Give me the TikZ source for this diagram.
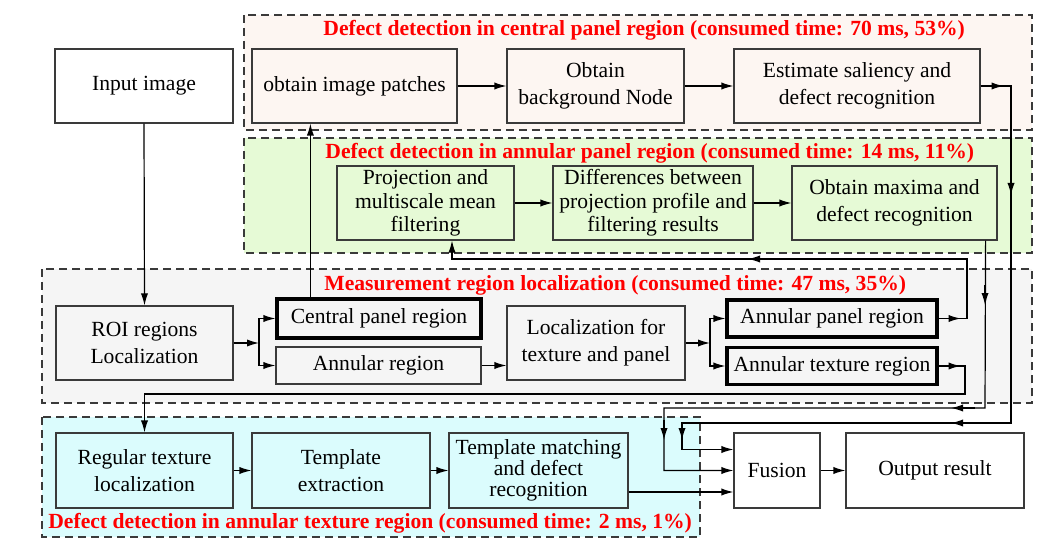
\documentclass[tikz,border=0pt]{standalone}
\usepackage{fontspec}
\setmainfont{Liberation Serif}
\usetikzlibrary{arrows.meta,calc}
\definecolor{linec}{HTML}{3A3A3A}
\definecolor{peach}{HTML}{FDF6F2}
\definecolor{lgreen}{HTML}{E6FAD6}
\definecolor{lgray}{HTML}{F5F5F5}
\definecolor{lcyan}{HTML}{DBFCFD}
\begin{document}
\begin{tikzpicture}[x=0.5pt,y=-0.5pt,
  every node/.style={font=\fontsize{10.8pt}{13.5pt}\selectfont},
  box/.style={draw=linec, line width=0.6pt, align=center, inner sep=0pt, minimum height=37pt},
  thickbox/.style={box, draw=black, line width=1.6pt},
  grp/.style={draw=linec, line width=0.6pt, dash pattern=on 4pt off 2.5pt},
  ttl/.style={font=\fontsize{10.8pt}{13pt}\selectfont\bfseries, text=red, anchor=west, inner sep=0pt},
  ln/.style={draw=black, line width=0.6pt},
  arr/.style={ln, -{Latex[length=6pt,width=3.6pt]}},
  threeA/.style={font=\fontsize{10.8pt}{11.75pt}\selectfont},
  threeB/.style={font=\fontsize{10.8pt}{10.6pt}\selectfont}
]
\useasboundingbox (0,0) rectangle (1048,545);
% groups
\draw[grp, fill=peach] (244,15) rectangle (1032,130);
\draw[grp, fill=lgreen] (244,138) rectangle (1032,253);
\draw[grp, fill=lgray] (42,269) rectangle (1032,403);
\draw[grp, fill=lcyan] (42,417) rectangle (700,537);
% titles
\node[ttl] (t1) at (323,30) {Defect detection in central panel region (consumed time: 70 ms, 53\%)};
\node[ttl] (t2) at (325,153) {Defect detection in annular panel region (consumed time: 14 ms, 11\%)};
\node[ttl] (t3) at (324,285) {Measurement region localization (consumed time: 47 ms, 35\%)};
\node[ttl] (t4) at (48,523) {Defect detection in annular texture region (consumed time: 2 ms, 1\%)};
% nodes
\node[box, fill=white, minimum width=89pt] (inp) at (144,86) {Input image};
\node[box, fill=peach, minimum width=102.5pt] (patches) at (354.5,86) {obtain image patches};
\node[box, fill=peach, minimum width=88.5pt] (bgnode) at (595.5,86) {Obtain\\background Node};
\node[box, fill=peach, minimum width=123pt] (est) at (857,86) {Estimate saliency and\\defect recognition};
\node[box, fill=lgreen, minimum width=88.5pt, threeA] (proj) at (425.5,203) {Projection and\\multiscale mean\\filtering};
\node[box, fill=lgreen, minimum width=100pt, threeA] (diff) at (653,203) {Differences between\\projection profile and\\filtering results};
\node[box, fill=lgreen, minimum width=102.5pt] (maxima) at (894.5,203) {Obtain maxima and\\defect recognition};
\node[box, fill=lgray, minimum width=88.5pt] (roi) at (144.5,343) {ROI regions\\Localization};
\node[thickbox, fill=lgray, minimum width=102pt, minimum height=19.5pt] (cpr) at (379,318.5) {Central panel region};
\node[box, fill=lgray, minimum width=102.5pt, minimum height=18.5pt] (ar) at (378.5,365.5) {Annular region};
\node[box, fill=lgray, minimum width=89pt] (loc) at (596,343) {Localization for\\texture and panel};
\node[thickbox, fill=lgray, minimum width=105pt, minimum height=18.5pt] (apr) at (832,318.5) {Annular panel region};
\node[thickbox, fill=lgray, minimum width=105pt, minimum height=18.5pt] (atr) at (832,366) {Annular texture region};
\node[box, fill=lcyan, minimum width=88.5pt, minimum height=37.5pt] (rtl) at (144.5,470.5) {Regular texture\\localization};
\node[box, fill=lcyan, minimum width=89pt, minimum height=37.5pt] (tex) at (341,470.5) {Template\\extraction};
\node[box, fill=lcyan, minimum width=89.5pt, minimum height=37.5pt, threeB] (tm) at (538.5,470.5) {Template matching\\and defect\\recognition};
\node[box, fill=white, minimum width=43pt, minimum height=37.5pt] (fus) at (777,470.5) {Fusion};
\node[box, fill=white, minimum width=89pt, minimum height=37.5pt] (out) at (935,470.5) {Output result};
% bend coordinates
\coordinate (c1) at ([xshift=17.5pt]cpr.north west);
\coordinate (m0) at ([xshift=-6pt]maxima.south east);
\coordinate (t0) at ([yshift=-10.75pt]tm.east);
\coordinate (f1) at ([yshift=10.5pt]fus.west);
\coordinate (f2) at (fus.west);
\coordinate (e1) at (1011,86);
\coordinate (e2) at (1011,423);
\coordinate (e3) at (682,423);
\coordinate (m1) at (985,408);
\coordinate (m2) at (664,408);
\coordinate (p1) at (967,318.5);
\coordinate (p2) at (967,259);
\coordinate (p3) at (452,259);
\coordinate (a1) at (965,366);
\coordinate (a2) at (965,394);
\coordinate (k1) at (259,343);
\coordinate (k2) at (710,343);
% connectors
\draw[arr] (patches.east) -- (bgnode.west);
\draw[arr] (bgnode.east) -- (est.west);
\draw[arr] (est.east) -- (e1) -- (e2) -- (e3) |- (f1);
\draw[arr] (proj.east) -- (diff.west);
\draw[arr] (diff.east) -- (maxima.west);
\draw[arr] (m0) -- (m1) -- (m2) |- (f2);
\draw[arr] (inp.south) -- (roi.north);
\draw[arr] (roi.east) -- (k1);
\draw[arr] (k1) |- (cpr.west);
\draw[arr] (k1) |- (ar.west);
\draw[arr] (c1) -- (c1 |- patches.south);
\draw[arr] (ar.east) -- (ar.east -| loc.west);
\draw[arr] (loc.east) -- (k2);
\draw[arr] (k2) |- (apr.west);
\draw[arr] (k2) |- (atr.west);
\draw[arr] (apr.east) -- (p1) -- (p2) -- (p3) -- (p3 |- proj.south);
\draw[arr] (atr.east) -- (a1) -- (a2) -| (rtl.north);
\draw[arr] (rtl.east) -- (tex.west);
\draw[arr] (tex.east) -- (tm.west);
\draw[arr] (t0) -- (t0 -| fus.west);
\draw[arr] (fus.east) -- (out.west);
% mid-line arrowheads
\draw[arr] (est.east) -- ([xshift=11.5pt]est.east);
\draw[arr] (1011,175) -- (1011,195);
\draw[arr] (975,423) -- (951,423);
\draw[arr] (682,424) -- (682,440);
\draw[arr] (985,285) -- (985,305);
\draw[arr] (975,408) -- (951,408);
\draw[arr] (664,420) -- (664,440);
\draw[arr] (apr.east) -- ([xshift=11pt]apr.east);
\draw[arr] (atr.east) -- ([xshift=11pt]atr.east);
\draw[arr] (768,259) -- (748,259);
\end{tikzpicture}
\end{document}
